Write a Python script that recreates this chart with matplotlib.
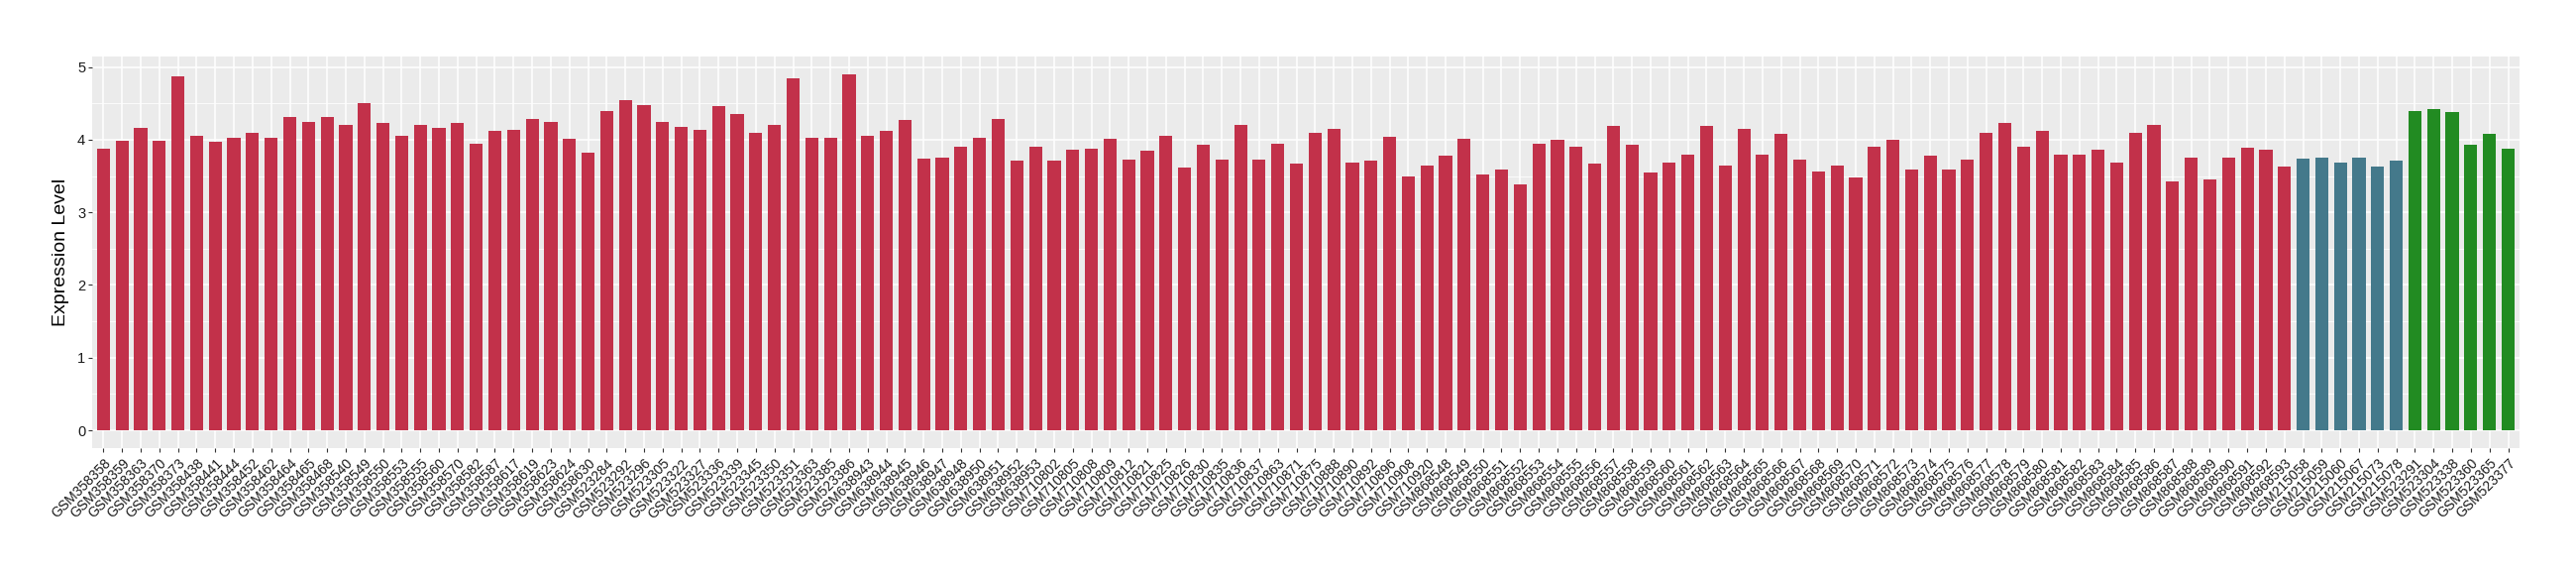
import matplotlib
matplotlib.use("Agg")
import matplotlib.pyplot as plt
from matplotlib.ticker import MultipleLocator

# ===== data =====
red_samples = [
    "GSM358358", "GSM358359", "GSM358363", "GSM358370", "GSM358373", "GSM358438",
    "GSM358441", "GSM358444", "GSM358452", "GSM358462", "GSM358464", "GSM358465",
    "GSM358468", "GSM358540", "GSM358549", "GSM358550", "GSM358553", "GSM358555",
    "GSM358560", "GSM358570", "GSM358582", "GSM358587", "GSM358617", "GSM358619",
    "GSM358623", "GSM358624", "GSM358630",
    "GSM523284", "GSM523292", "GSM523296", "GSM523305", "GSM523322", "GSM523327",
    "GSM523336", "GSM523339", "GSM523345", "GSM523350", "GSM523351", "GSM523363",
    "GSM523385", "GSM523386",
    "GSM638943", "GSM638944", "GSM638945", "GSM638946", "GSM638947", "GSM638948",
    "GSM638950", "GSM638951", "GSM638952", "GSM638953",
    "GSM710802", "GSM710805", "GSM710808", "GSM710809", "GSM710812", "GSM710821",
    "GSM710825", "GSM710826", "GSM710830", "GSM710835", "GSM710836", "GSM710837",
    "GSM710863", "GSM710871", "GSM710875", "GSM710888", "GSM710890", "GSM710892",
    "GSM710896", "GSM710908", "GSM710920",
    "GSM868548", "GSM868549", "GSM868550", "GSM868551", "GSM868552", "GSM868553",
    "GSM868554", "GSM868555", "GSM868556", "GSM868557", "GSM868558", "GSM868559",
    "GSM868560", "GSM868561", "GSM868562", "GSM868563", "GSM868564", "GSM868565",
    "GSM868566", "GSM868567", "GSM868568", "GSM868569", "GSM868570", "GSM868571",
    "GSM868572", "GSM868573", "GSM868574", "GSM868575", "GSM868576", "GSM868577",
    "GSM868578", "GSM868579", "GSM868580", "GSM868581", "GSM868582", "GSM868583",
    "GSM868584", "GSM868585", "GSM868586", "GSM868587", "GSM868588", "GSM868589",
    "GSM868590", "GSM868591", "GSM868592", "GSM868593",
]
red_values = [
    3.87, 3.98, 4.16, 3.98, 4.87, 4.05, 3.97, 4.02, 4.09, 4.02,
    4.31, 4.24, 4.31, 4.21, 4.51, 4.23, 4.05, 4.20, 4.16, 4.23,
    3.95, 4.12, 4.13, 4.28, 4.25, 4.01, 3.82, 4.39, 4.55, 4.47,
    4.25, 4.17, 4.13, 4.46, 4.35, 4.09, 4.20, 4.84, 4.02, 4.02,
    4.90, 4.05, 4.12, 4.27, 3.74, 3.76, 3.91, 4.02, 4.28, 3.71,
    3.90, 3.71, 3.86, 3.87, 4.01, 3.72, 3.85, 4.06, 3.61, 3.93,
    3.72, 4.21, 3.72, 3.94, 3.67, 4.10, 4.15, 3.68, 3.71, 4.04,
    3.49, 3.64, 3.78, 4.01, 3.52, 3.59, 3.38, 3.95, 4.00, 3.90,
    3.67, 4.19, 3.93, 3.55, 3.68, 3.80, 4.19, 3.64, 4.15, 3.80,
    4.08, 3.72, 3.56, 3.65, 3.48, 3.91, 4.00, 3.59, 3.78, 3.59,
    3.72, 4.10, 4.23, 3.90, 4.12, 3.79, 3.80, 3.86, 3.68, 4.10,
    4.21, 3.42, 3.75, 3.45, 3.76, 3.89, 3.86, 3.63,
]

blue_samples = ["GSM215058", "GSM215059", "GSM215060", "GSM215067", "GSM215073", "GSM215078"]
blue_values = [3.74, 3.75, 3.68, 3.75, 3.63, 3.71]

green_samples = ["GSM523291", "GSM523304", "GSM523338", "GSM523360", "GSM523365", "GSM523377"]
green_values = [4.40, 4.42, 4.38, 3.93, 4.08, 3.87]

RED, BLUE, GREEN = "#C2314A", "#44798B", "#228B22"
# ================


def main():
    plt.rcParams["font.family"] = ["Liberation Sans", "DejaVu Sans"]

    samples = red_samples + blue_samples + green_samples
    values = red_values + blue_values + green_values
    colors = [RED] * len(red_samples) + [BLUE] * len(blue_samples) + [GREEN] * len(green_samples)
    x = list(range(len(samples)))

    fig = plt.figure(figsize=(26, 5.8), dpi=100)
    ax = fig.add_axes([0.0358, 0.2207, 0.978 - 0.0358, 0.9017 - 0.2207])
    ax.set_facecolor("#EBEBEB")

    ax.bar(x, values, width=0.7, color=colors, zorder=3)

    ax.set_xlim(-0.6, len(samples) - 1 + 0.6)
    ax.set_ylim(-0.245, 5.145)
    ax.yaxis.set_major_locator(MultipleLocator(1))
    ax.yaxis.set_minor_locator(MultipleLocator(0.5))
    ax.set_xticks(x)
    ax.set_xticklabels(samples, rotation=45, ha="right", va="top",
                       rotation_mode="anchor", fontsize=10, color="#1A1A1A")

    ax.grid(which="major", color="white", lw=1.1, zorder=0)
    ax.grid(which="minor", axis="y", color="white", lw=0.55, zorder=0)
    ax.set_axisbelow(True)
    for s in ax.spines.values():
        s.set_visible(False)

    ax.tick_params(axis="both", which="major", length=3, width=0.8, color="#333333")
    ax.tick_params(axis="y", which="minor", length=0)
    ax.tick_params(axis="y", labelsize=10.5, labelcolor="#1A1A1A", pad=2)
    ax.tick_params(axis="x", pad=3)

    ax.set_ylabel("Expression Level", fontsize=14, labelpad=6)

    fig.savefig("out.png", dpi=100)
    plt.close(fig)


if __name__ == "__main__":
    main()
